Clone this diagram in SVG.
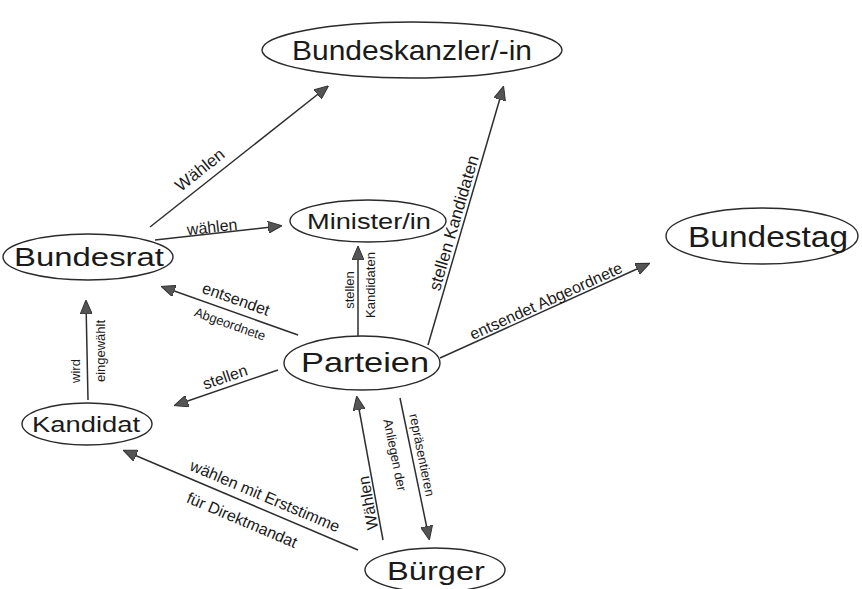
<svg xmlns="http://www.w3.org/2000/svg" width="862" height="589" viewBox="0 0 862 589">
<style>
.node ellipse{fill:#fff;stroke:#2a2a2a;stroke-width:1.4}
.node text{font-family:"Liberation Sans","DejaVu Sans",sans-serif;fill:#1a1a1a;text-anchor:middle;dominant-baseline:central}
.edges line{stroke:#2e2e2e;stroke-width:1.5;marker-end:url(#ah)}
.lbl{font-family:"Liberation Sans","DejaVu Sans",sans-serif;font-size:16px;fill:#1a1a1a;text-anchor:middle;dominant-baseline:central}
.sm{font-size:13px}
</style>
<defs>
<marker id="ah" viewBox="0 0 14 12" refX="12" refY="6" markerWidth="14" markerHeight="12" markerUnits="userSpaceOnUse" orient="auto">
<path d="M0,0 L14,6 L0,12 Z" fill="#555" stroke="#333" stroke-width="1"/>
</marker>
</defs>
<rect width="862" height="589" fill="#fff"/>
<g class="edges">
<line x1="150" y1="227" x2="327" y2="87"/>
<line x1="155" y1="240" x2="280" y2="226"/>
<line x1="358" y1="338" x2="358" y2="248"/>
<line x1="428" y1="345" x2="503" y2="88"/>
<line x1="440" y1="358" x2="648" y2="264"/>
<line x1="298" y1="335" x2="163" y2="287"/>
<line x1="278" y1="370" x2="176" y2="405"/>
<line x1="88" y1="400" x2="86" y2="302"/>
<line x1="358" y1="550" x2="125" y2="451"/>
<line x1="383" y1="540" x2="357" y2="398"/>
<line x1="400" y1="398" x2="429" y2="538"/>
<text class="lbl" transform="translate(200,170) rotate(-38.3)" style="font-size:17px">Wählen</text>
<text class="lbl" transform="translate(212,227) rotate(-6.4)">wählen</text>
<text class="lbl sm" transform="translate(349,290) rotate(-90)">stellen</text>
<text class="lbl sm" transform="translate(370,285) rotate(-90)">Kandidaten</text>
<text class="lbl" transform="translate(454,223) rotate(-73.7)" style="font-size:17px">stellen Kandidaten</text>
<text class="lbl" transform="translate(546,301) rotate(-24.3)">entsendet Abgeordnete</text>
<text class="lbl" transform="translate(236,299) rotate(19.6)">entsendet</text>
<text class="lbl sm" transform="translate(230,324) rotate(19.6)">Abgeordnete</text>
<text class="lbl" transform="translate(225,377) rotate(-18.9)">stellen</text>
<text class="lbl sm" transform="translate(75,371) rotate(-90)">wird</text>
<text class="lbl sm" transform="translate(100,351) rotate(-90)">eingewählt</text>
<text class="lbl" transform="translate(265,496) rotate(23)">wählen mit Erststimme</text>
<text class="lbl" transform="translate(242,520) rotate(23)">für Direktmandat</text>
<text class="lbl" transform="translate(368,503) rotate(-100)">Wählen</text>
<text class="lbl sm" transform="translate(422,455) rotate(78.6)">repräsentieren</text>
<text class="lbl sm" transform="translate(395,455) rotate(78.6)">Anliegen der</text>
</g>
<g id="bundeskanzler" class="node"><ellipse cx="412" cy="50" rx="150" ry="28"/><text x="412" y="50" font-size="28" textLength="240" lengthAdjust="spacingAndGlyphs">Bundeskanzler/-in</text></g>
<g id="minister" class="node"><ellipse cx="368" cy="221" rx="78" ry="21"/><text x="369" y="221" font-size="22" textLength="124" lengthAdjust="spacingAndGlyphs">Minister/in</text></g>
<g id="bundestag" class="node"><ellipse cx="762" cy="236" rx="96" ry="28"/><text x="768" y="236" font-size="30" textLength="160" lengthAdjust="spacingAndGlyphs">Bundestag</text></g>
<g id="bundesrat" class="node"><ellipse cx="88" cy="257" rx="85" ry="23"/><text x="89" y="257" font-size="26" textLength="150" lengthAdjust="spacingAndGlyphs">Bundesrat</text></g>
<g id="parteien" class="node"><ellipse cx="362" cy="363" rx="78" ry="27"/><text x="365" y="362" font-size="28" textLength="128" lengthAdjust="spacingAndGlyphs">Parteien</text></g>
<g id="kandidat" class="node"><ellipse cx="87" cy="424" rx="65" ry="21"/><text x="86" y="424" font-size="22" textLength="108" lengthAdjust="spacingAndGlyphs">Kandidat</text></g>
<g id="buerger" class="node"><ellipse cx="435" cy="570" rx="70" ry="22"/><text x="436" y="571" font-size="26" textLength="98" lengthAdjust="spacingAndGlyphs">Bürger</text></g>
</svg>
